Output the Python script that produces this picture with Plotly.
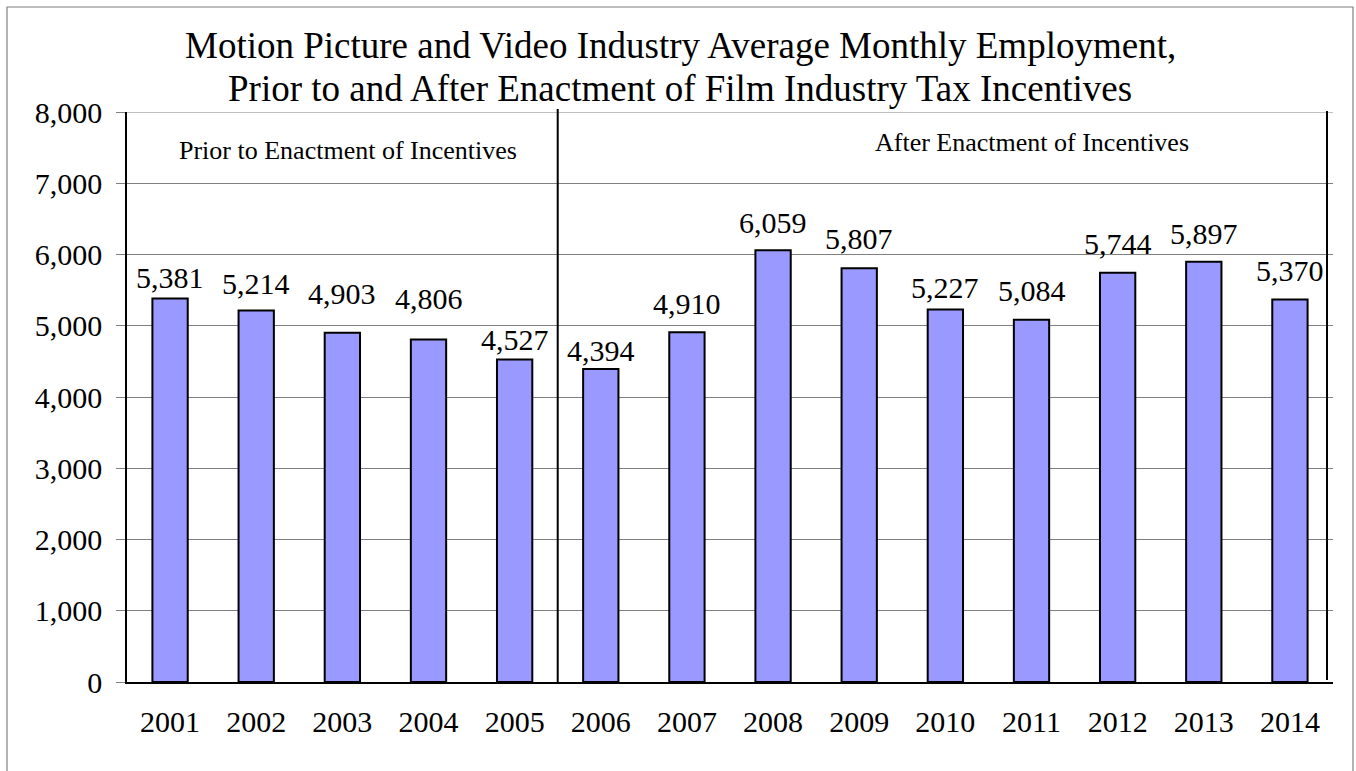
import plotly.graph_objects as go

years = ["2001", "2002", "2003", "2004", "2005", "2006", "2007",
         "2008", "2009", "2010", "2011", "2012", "2013", "2014"]
employment = [5381, 5214, 4903, 4806, 4527, 4394, 4910,
              6059, 5807, 5227, 5084, 5744, 5897, 5370]
y_ticks = [0, 1000, 2000, 3000, 4000, 5000, 6000, 7000, 8000]
title_lines = ["Motion Picture and Video Industry Average Monthly Employment,",
               "Prior to and After Enactment of Film Industry Tax Incentives"]
period_labels = ["Prior to Enactment of Incentives", "After Enactment of Incentives"]

# layout: gap in pixels between each bar top and its value label (as placed in the original)
label_gap_px = [12, 18, 30, 32, 10, 9, 19, 18, 20, 13, 20, 20, 19, 19]

FONT = "Liberation Serif, Times New Roman, serif"

fig = go.Figure()
fig.add_trace(go.Bar(
    x=years, y=employment,
    marker=dict(color="#9999FF", line=dict(color="black", width=2)),
    width=0.41,
    hoverinfo="x+y",
))

W, H = 1356, 771
L, R, T, B = 127, 23, 112, 89

def px_x(px):
    return (px - L) / (W - L - R)

def px_y(py):
    return (H - B - py) / (H - T - B)

shapes = [
    dict(type="rect", xref="paper", yref="paper",
         x0=px_x(7), x1=px_x(1353), y0=px_y(780), y1=px_y(7),
         line=dict(color="#808080", width=1.2), layer="below"),
    dict(type="line", xref="paper", yref="y", x0=px_x(118), x1=1, y0=8000, y1=8000,
         line=dict(color="#808080", width=1.2), layer="below"),
    dict(type="line", xref="x", yref="paper", x0=4.5, x1=4.5,
         y0=0, y1=px_y(109), line=dict(color="black", width=2)),
    dict(type="line", xref="paper", yref="paper", x0=px_x(1327), x1=px_x(1327),
         y0=px_y(680), y1=px_y(111), line=dict(color="black", width=2)),
]

annotations = [
    dict(text=title_lines[0], xref="paper", yref="paper",
         x=px_x(680), y=px_y(45), xanchor="center", yanchor="middle",
         showarrow=False, font=dict(family=FONT, size=37, color="black")),
    dict(text=title_lines[1], xref="paper", yref="paper",
         x=px_x(680), y=px_y(88), xanchor="center", yanchor="middle",
         showarrow=False, font=dict(family=FONT, size=37, color="black")),
    dict(text=period_labels[0], xref="paper", yref="paper",
         x=px_x(348), y=px_y(150), xanchor="center", yanchor="middle",
         showarrow=False, font=dict(family=FONT, size=26, color="black")),
    dict(text=period_labels[1], xref="paper", yref="paper",
         x=px_x(1032), y=px_y(143), xanchor="center", yanchor="middle",
         showarrow=False, font=dict(family=FONT, size=26, color="black")),
]

for i, (v, gap) in enumerate(zip(employment, label_gap_px)):
    annotations.append(dict(
        text=f"{v:,}", x=i, y=v, xref="x", yref="y",
        xanchor="center", yanchor="bottom", yshift=gap - 9,
        showarrow=False, font=dict(family=FONT, size=30, color="black"),
    ))

fig.update_layout(
    width=W, height=H,
    margin=dict(l=L, r=R, t=T, b=B),
    paper_bgcolor="white", plot_bgcolor="white",
    showlegend=False,
    shapes=shapes,
    annotations=annotations,
    font=dict(family=FONT, color="black"),
)

fig.update_xaxes(
    type="category",
    showline=True, linecolor="black", linewidth=1.5,
    showgrid=False, ticks="", ticklabelstandoff=12,
    tickfont=dict(family=FONT, size=30, color="black"),
    range=[-0.5, 13.5],
)
fig.update_yaxes(
    range=[0, 8000],
    tickvals=y_ticks,
    ticktext=[f"{v:,}" for v in y_ticks],
    showline=True, linecolor="black", linewidth=1.5,
    showgrid=True, gridcolor="#808080", gridwidth=1.2,
    ticks="outside", ticklen=9, tickcolor="#808080", tickwidth=1.2,
    ticklabelstandoff=8,
    tickfont=dict(family=FONT, size=30, color="black"),
    zeroline=False,
)

fig.write_html("out.html")
